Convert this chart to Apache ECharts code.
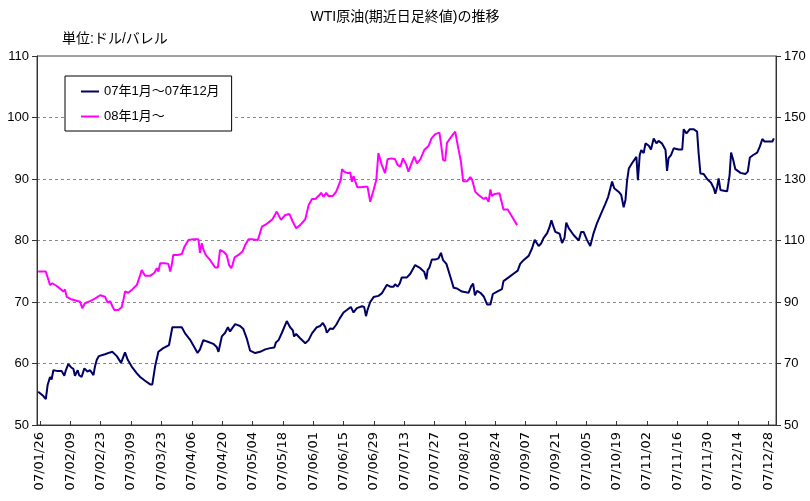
<!DOCTYPE html>
<html>
<head>
<meta charset="utf-8">
<script src="https://cdn.jsdelivr.net/npm/echarts@6/dist/echarts.min.js"></script>
<style>html,body{margin:0;padding:0;background:#fff;}#c{width:810px;height:501px;}</style>
</head>
<body>
<div id="c"></div>
<script>
// x positions are weekday indices (07/01/25 = 0)
const tickLabels = ['07/01/26','07/02/09','07/02/23','07/03/09','07/03/23','07/04/06','07/04/20','07/05/04','07/05/18','07/06/01','07/06/15','07/06/29','07/07/13','07/07/27','07/08/10','07/08/24','07/09/07','07/09/21','07/10/05','07/10/19','07/11/02','07/11/16','07/11/30','07/12/14','07/12/28'];
const tickPos = [1,11,21,31,41,51,61,71,81,91,101,111,121,131,141,151,161,171,181,191,201,211,221,231,241];

const leftTicks = [50,60,70,80,90,100,110];
const rightTicks = [50,70,90,110,130,150,170];

// 07年1月～07年12月 : [weekday index, USD/bbl]
const series2007 = [
[0.4,55.4],[2.1,54.7],[2.9,54.2],[3.5,56.5],[4.3,57.8],[4.8,57.4],[5.4,58.9],[6.5,58.8],[8.1,58.8],[9.0,58.0],
[9.5,58.9],[10.3,59.9],[11.2,59.4],[12.0,59.1],[12.5,58.0],[13.4,58.9],[13.9,58.1],[14.7,57.8],[15.6,59.2],[16.6,58.7],
[17.5,58.9],[18.6,58.1],[19.1,59.5],[19.7,60.6],[20.4,61.2],[22.4,61.5],[24.1,61.8],[24.8,61.9],[26.3,61.2],[27.7,60.1],
[29.0,61.8],[29.9,60.6],[31.2,59.5],[32.9,58.4],[34.0,57.8],[35.6,57.2],[37.3,56.6],[38.0,56.6],[38.9,59.5],[40.0,61.9],
[41.6,62.5],[43.5,63.0],[44.6,65.9],[47.7,65.9],[48.8,64.9],[50.4,63.9],[51.9,62.6],[52.9,61.7],[53.7,62.3],[54.8,63.8],
[56.5,63.5],[58.1,63.2],[59.2,62.7],[59.8,61.9],[60.9,64.4],[62.0,65.0],[62.9,65.9],[63.6,65.2],[64.4,65.8],[65.3,66.4],
[66.9,66.1],[68.0,65.6],[69.1,64.1],[70.2,62.1],[71.9,61.7],[73.5,61.9],[75.2,62.3],[76.8,62.5],[78.2,62.6],[78.7,63.4],
[79.6,63.8],[80.7,65.0],[82.3,66.9],[83.4,65.9],[84.3,65.4],[84.7,64.4],[85.4,64.8],[86.7,64.1],[88.4,63.3],[89.5,63.8],
[90.6,64.9],[92.2,65.9],[93.3,66.1],[94.2,66.6],[95.0,65.9],[95.5,65.0],[96.6,65.7],[97.5,65.6],[98.6,66.3],[99.7,67.3],
[101.0,68.3],[102.1,68.7],[103.4,69.2],[104.3,68.3],[105.4,69.0],[107.1,69.3],[107.8,69.2],[108.4,67.7],[108.9,68.7],[109.8,70.0],
[110.9,70.8],[112.5,71.0],[113.6,71.4],[115.3,72.8],[116.4,72.5],[117.5,72.5],[118.0,72.9],[118.8,72.5],[119.5,73.0],[120.2,74.0],
[121.9,74.0],[123.0,74.6],[124.6,76.0],[126.3,75.5],[127.6,74.9],[128.3,73.7],[128.7,75.2],[129.3,75.6],[130.1,76.9],[131.2,76.9],
[132.3,77.1],[133.1,78.0],[133.8,76.8],[134.3,77.0],[134.9,76.2],[136.2,74.1],[137.3,72.3],[138.4,72.2],[140.0,71.7],[142.2,71.5],
[143.0,72.5],[143.7,73.0],[144.3,71.1],[145.0,71.8],[146.1,71.5],[147.2,70.9],[148.3,69.6],[149.4,69.6],[150.2,71.3],[151.6,71.7],
[153.2,72.1],[153.7,73.4],[155.4,74.0],[157.0,74.6],[158.4,75.1],[159.2,76.2],[160.3,76.8],[162.0,77.5],[163.1,78.7],[164.0,80.1],
[164.5,80.0],[165.3,79.1],[166.1,79.5],[166.9,80.4],[168.1,81.2],[168.9,82.2],[169.5,83.3],[170.2,82.2],[170.8,81.4],[172.2,81.1],
[173.0,79.6],[173.8,80.4],[174.4,82.9],[175.2,82.0],[176.8,80.9],[178.5,80.0],[179.3,81.4],[180.1,81.4],[181.2,80.1],[182.3,79.1],
[183.4,81.2],[184.5,82.8],[185.9,84.4],[187.3,86.0],[188.2,87.1],[188.7,87.4],[189.5,89.6],[190.2,88.5],[191.7,87.9],[192.5,87.4],
[193.3,85.4],[193.9,86.6],[194.4,89.6],[195.0,91.7],[196.1,92.6],[197.5,93.6],[198.0,89.8],[198.6,93.9],[199.1,94.7],[199.9,94.2],
[200.5,95.8],[201.6,95.4],[202.3,94.8],[203.2,96.6],[204.1,95.8],[204.8,96.2],[205.9,95.8],[207.1,94.7],[207.6,91.3],[208.1,93.4],
[208.9,93.9],[209.8,95.0],[211.4,94.8],[212.6,94.8],[213.1,98.1],[214.0,97.4],[215.1,98.1],[216.4,98.1],[217.5,97.7],[218.0,94.2],
[218.6,90.9],[219.7,90.8],[220.8,90.0],[222.1,89.4],[223.0,88.5],[223.5,87.6],[224.1,88.7],[224.6,90.1],[225.2,88.2],[226.3,88.1],
[227.4,88.0],[228.2,90.6],[228.7,94.3],[229.4,93.1],[230.1,91.6],[231.8,91.0],[233.4,90.8],[234.2,91.2],[234.9,93.5],[236.0,93.9],
[237.3,94.3],[238.2,95.3],[239.0,96.5],[239.7,96.1],[240.8,96.1],[242.3,96.1],[242.8,96.6]
];

// 08年1月～ (right axis)
const x2008 = [0.4,2.9,3.7,4.3,5.0,6.5,7.9,8.7,9.2,9.8,
11.2,13.1,14.2,14.9,15.8,17.5,19.1,20.8,22.4,23.3,
24.1,24.8,25.5,26.8,27.9,28.5,29.0,30.1,31.4,32.9,
34.0,34.5,35.0,35.6,37.3,38.7,39.5,40.0,40.6,42.2,
43.3,43.9,44.4,44.9,46.4,47.7,48.6,49.9,51.5,53.2,
53.7,54.3,54.8,55.6,57.0,58.7,59.6,60.3,61.4,62.5,
63.3,64.0,64.4,65.1,66.4,67.7,68.6,69.7,70.8,72.8,
74.1,75.7,77.6,79.0,80.4,81.8,83.2,84.3,85.4,86.7,
88.4,89.5,90.6,91.7,93.1,93.6,94.4,95.3,96.0,97.5,
98.6,100.1,100.5,101.2,102.3,103.2,103.8,104.3,104.8,105.6,
106.7,108.1,108.9,109.8,110.9,111.8,112.5,113.6,114.7,115.5,
116.9,118.0,118.8,119.7,120.6,121.7,122.4,123.6,124.3,125.2,
126.3,127.6,129.0,130.0,131.2,132.6,133.1,133.8,134.5,135.1,
136.7,137.8,138.6,139.7,140.4,141.7,142.8,143.4,144.4,145.5,
147.2,148.0,148.8,149.4,149.9,150.7,152.4,153.7,155.1,156.2,
158.2];
const y2008 = [99.9,99.9,97.4,95.5,96.1,95.2,94.1,93.4,94.1,91.7,
90.9,90.4,90.1,88.0,89.6,90.3,91.1,92.2,91.7,89.8,
90.3,88.7,87.4,87.4,88.3,90.7,93.4,93.0,94.1,95.5,
98.8,100.4,99.9,98.5,98.5,99.5,101.0,99.9,102.6,102.6,
102.4,99.9,102.0,105.3,105.3,105.6,108.0,110.2,110.4,110.4,
106.0,109.1,107.1,105.3,103.7,101.2,101.2,106.9,106.4,105.3,
102.0,101.0,102.0,104.5,105.3,106.4,108.5,110.4,110.4,110.2,
114.5,115.4,116.9,119.4,116.7,118.3,118.6,116.1,114.0,115.0,
116.9,121.5,123.5,123.5,124.8,125.5,124.2,125.5,124.5,124.5,
125.9,129.7,133.2,132.4,131.9,132.1,129.1,131.0,129.4,127.3,
127.3,127.5,127.5,122.6,126.4,129.7,138.4,134.6,131.9,136.4,
136.7,136.4,134.6,134.0,136.7,134.6,132.4,135.6,137.3,135.1,
136.4,139.4,140.7,143.2,144.6,145.1,141.6,136.2,135.9,141.8,
144.0,145.4,141.1,135.6,129.3,129.3,130.6,129.7,125.9,124.8,
123.5,124.0,122.6,126.6,124.5,125.1,125.4,120.1,120.1,118.3,
115.0];

const seriesNames = ['07年1月～07年12月','08年1月～'];
const seriesColors = ['#000066','#ff00ff'];

const font = '"Liberation Sans","Noto Sans CJK JP",sans-serif';
const chart = echarts.init(document.getElementById('c'));
const data2008 = x2008.map((x,i)=>[x,y2008[i]]);

chart.setOption({
  animation:false,
  backgroundColor:'#fff',
  textStyle:{fontFamily:font},
  title:[
    {text:'WTI原油(期近日足終値)の推移', left:'center', top:10, padding:0,
     textStyle:{fontSize:14, fontWeight:'normal', color:'#000', fontFamily:font}},
    {text:'単位:ドル/バレル', left:62, top:32, padding:0,
     textStyle:{fontSize:14, fontWeight:'normal', color:'#000', fontFamily:font}}
  ],
  legend:{
    orient:'vertical', left:65, top:76,
    data:seriesNames,
    icon:'rect', itemWidth:18, itemHeight:2, itemGap:12,
    padding:[9,12,8,16],
    borderColor:'#000', borderWidth:1, backgroundColor:'#fff',
    textStyle:{fontSize:13, color:'#000', fontFamily:font}
  },
  grid:{left:37, right:34, top:56, bottom:76, show:true, borderColor:'#444', borderWidth:1, backgroundColor:'transparent'},
  xAxis:{
    type:'value', min:0, max:243.5,
    axisLine:{show:true, lineStyle:{color:'#333', width:1}},
    axisTick:{show:true, inside:true, length:4, customValues:tickPos, lineStyle:{color:'#333'}},
    axisLabel:{customValues:tickPos, rotate:90, margin:7, fontSize:13, color:'#000', fontFamily:'"DejaVu Sans",sans-serif',
      formatter:(v)=>{const i=tickPos.indexOf(Math.round(v)); return i>=0?tickLabels[i]:'';}},
    splitLine:{show:false}
  },
  yAxis:[
    {type:'value', min:leftTicks[0], max:leftTicks[leftTicks.length-1], interval:10, position:'left',
     axisLine:{show:true, lineStyle:{color:'#333'}},
     axisTick:{show:true, length:5, lineStyle:{color:'#333'}},
     axisLabel:{fontSize:13, color:'#000', margin:8, fontFamily:font},
     splitLine:{show:true, showMinLine:false, showMaxLine:false, lineStyle:{type:[3,3], color:'#888', width:1}}},
    {type:'value', min:rightTicks[0], max:rightTicks[rightTicks.length-1], interval:20, position:'right',
     axisLine:{show:true, lineStyle:{color:'#333'}},
     axisTick:{show:true, length:5, lineStyle:{color:'#333'}},
     axisLabel:{fontSize:13, color:'#000', margin:8, fontFamily:font},
     splitLine:{show:false}}
  ],
  series:[
    {name:seriesNames[0], type:'line', yAxisIndex:0, data:series2007, symbol:'none',
     lineStyle:{color:seriesColors[0], width:2}, itemStyle:{color:seriesColors[0]}},
    {name:seriesNames[1], type:'line', yAxisIndex:1, data:data2008, symbol:'none',
     lineStyle:{color:seriesColors[1], width:2}, itemStyle:{color:seriesColors[1]}}
  ]
});
</script>
</body>
</html>
